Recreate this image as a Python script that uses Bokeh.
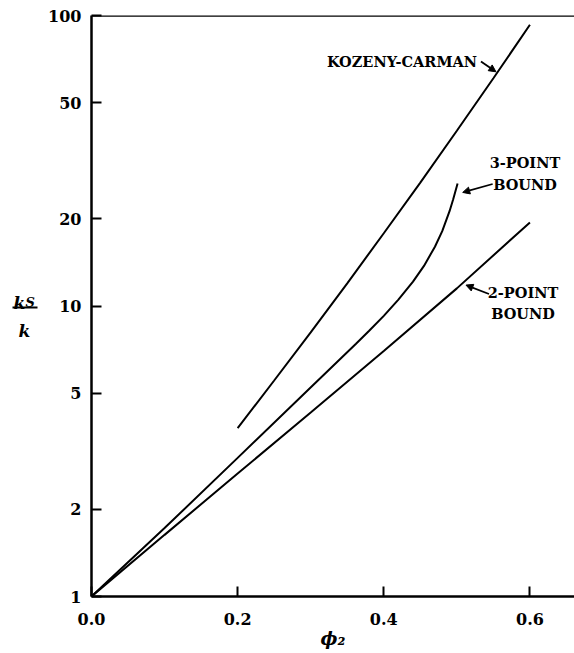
from bokeh.plotting import figure
from bokeh.layouts import row
from bokeh.models import (FixedTicker, Label, Arrow, NormalHead, Range1d,
                          NumeralTickFormatter, Span)
from bokeh.embed import file_html
from bokeh.resources import INLINE

# ---- data ----
phi_2pt = [0.0, 0.1, 0.2, 0.3, 0.4, 0.5, 0.6]
ks_2pt = [1.0, 1.63, 2.65, 4.3, 7.0, 11.5, 19.4]

phi_3pt = [0.0, 0.1, 0.2, 0.291, 0.362, 0.38, 0.40, 0.42, 0.44, 0.455, 0.47, 0.48, 0.49, 0.495, 0.501]
ks_3pt = [1.0, 1.72, 3.0, 4.99, 7.41, 8.22, 9.25, 10.52, 12.13, 13.74, 16.0, 18.1, 21.2, 23.3, 26.4]

phi_kc = [0.2, 0.25, 0.3, 0.35, 0.4, 0.45, 0.5, 0.55, 0.6]
ks_kc = [3.80, 5.54, 8.11, 11.97, 17.8, 26.6, 40.1, 60.8, 92.9]

x_ticks = [0.0, 0.2, 0.4, 0.6]
y_ticks = [1, 2, 5, 10, 20, 50, 100]

FONT = "DejaVu Serif"
LEFT_W = 45

p = figure(width=574 - LEFT_W, height=653, y_axis_type="log",
           x_range=Range1d(0, 0.661), y_range=Range1d(1, 100),
           output_backend="svg", toolbar_location=None,
           min_border_left=91 - LEFT_W, min_border_right=0,
           min_border_top=15, min_border_bottom=57)

p.grid.visible = False
p.outline_line_color = None
p.background_fill_color = "white"
p.border_fill_color = "white"

for ax in (p.xaxis[0], p.yaxis[0]):
    ax.axis_line_width = 2.5
    ax.axis_line_color = "black"
    ax.major_tick_in = 10
    ax.major_tick_out = 0
    ax.major_tick_line_width = 2
    ax.minor_tick_line_color = None
    ax.major_label_text_font = FONT
    ax.major_label_text_font_style = "bold"
    ax.major_label_text_font_size = "16px"
    ax.major_label_text_color = "black"

p.xaxis.ticker = FixedTicker(ticks=x_ticks)
p.xaxis.formatter = NumeralTickFormatter(format="0.0")
p.xaxis.major_label_standoff = 16
p.xaxis.axis_label = "\u03d5\u2082"
p.xaxis.axis_label_text_font = FONT
p.xaxis.axis_label_text_font_style = "bold italic"
p.xaxis.axis_label_text_font_size = "18px"
p.xaxis.axis_label_text_color = "black"
p.xaxis.axis_label_standoff = 0

p.yaxis.ticker = FixedTicker(ticks=y_ticks)
p.yaxis.formatter = NumeralTickFormatter(format="0")
p.yaxis.major_label_standoff = 10

p.add_layout(Span(location=100, dimension="width", line_color="black", line_width=2.5))

for xs, ys in ((phi_2pt, ks_2pt), (phi_3pt, ks_3pt), (phi_kc, ks_kc)):
    p.line(xs, ys, line_color="black", line_width=2)

def lab(fig, x, y, t, size="14.5px", align="center", style="bold", baseline="middle"):
    fig.add_layout(Label(x=x, y=y, text=t, text_font=FONT, text_font_style=style,
                         text_font_size=size, text_align=align,
                         text_baseline=baseline, text_color="black"))

lab(p, 0.5275, 69.5, "KOZENY-CARMAN", align="right")
lab(p, 0.5932, 31.1, "3-POINT")
lab(p, 0.5932, 26.3, "BOUND")
lab(p, 0.5905, 11.09, "2-POINT")
lab(p, 0.5905, 9.4, "BOUND")

def arrow(x0, y0, x1, y1):
    p.add_layout(Arrow(end=NormalHead(size=7, fill_color="black", line_color="black"),
                       x_start=x0, y_start=y0, x_end=x1, y_end=y1,
                       line_color="black", line_width=1.8))

arrow(0.533, 69.5, 0.5535, 64.0)
arrow(0.549, 26.3, 0.508, 24.6)
arrow(0.544, 11.0, 0.5125, 11.8)

# ---- left strip carrying the y-axis label k_S / k ----
# its frame is aligned with the main frame (page y 15..596), so y values are page pixels
pl = figure(width=LEFT_W, height=653, x_range=Range1d(0, LEFT_W), y_range=Range1d(596, 15),
            output_backend="svg", toolbar_location=None, title=None,
            x_axis_location=None, y_axis_location=None,
            min_border=0, min_border_left=0, min_border_right=0,
            min_border_top=15, min_border_bottom=57)
pl.grid.visible = False
pl.outline_line_color = None
pl.background_fill_color = "white"
pl.border_fill_color = "white"

lab(pl, 13, 302, "k", size="17px", align="left", style="bold italic", baseline="alphabetic")
lab(pl, 25, 302, "S", size="13px", align="left", style="bold italic", baseline="alphabetic")
pl.segment(x0=[12], y0=[307], x1=[37], y1=[307], line_color="black", line_width=2)
lab(pl, 18, 330, "k", size="17px", align="left", style="bold italic", baseline="alphabetic")

layout = row(pl, p, spacing=0)
open("out.html", "w").write(file_html(layout, INLINE))
